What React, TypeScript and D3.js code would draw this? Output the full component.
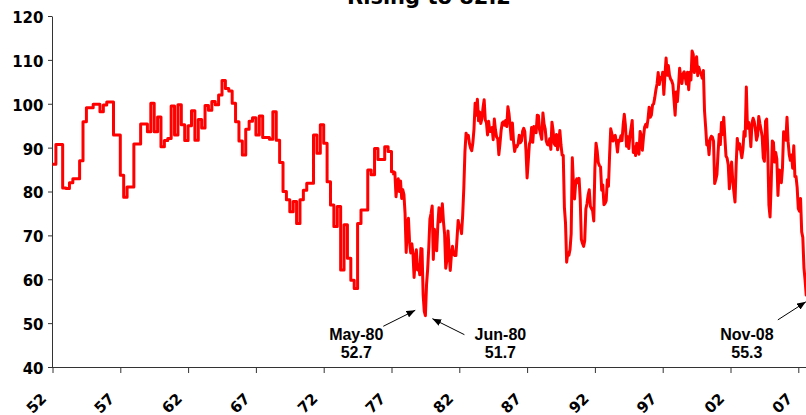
import { useEffect, useRef } from "react";
import * as d3 from "d3";

const WIDTH = 806;
const HEIGHT = 415;
const TITLE = "Rising to 82.2";

// Index of consumer sentiment. Quarterly survey readings Nov-52 .. Nov-77,
// monthly readings from Jan-78 on.
const firstSurveyMonth = new Date(1952, 10, 1);
const lastMonth = new Date(2008, 10, 1);
const quarterlySurvey = [
  86.2, 90.7, 90.7, 80.8, 80.7, 82.0, 82.9, 82.9, 87.0, 95.9, 99.1, 99.1, 99.9,
  99.9, 98.2, 99.7, 100.4, 100.4, 92.9, 92.9, 83.7, 78.7, 81.0, 81.0, 90.8,
  90.8, 95.4, 95.4, 93.6, 100.1, 93.6, 97.0, 90.2, 91.6, 92.1, 99.5, 92.9, 99.8,
  95.2, 91.6, 95.0, 98.4, 91.7, 96.4, 94.5, 99.6, 98.5, 100.5, 99.8, 102.0,
  105.3, 103.5, 102.9, 100.1, 95.9, 91.5, 88.3, 94.2, 96.0, 96.8, 92.9, 97.2,
  92.3, 92.3, 91.9, 98.2, 91.7, 86.6, 80.0, 78.1, 75.4, 77.7, 72.7, 78.1, 80.3,
  81.9, 81.9, 92.9, 88.7, 95.2, 91.0, 82.2, 76.9, 72.0, 76.6, 62.1, 72.4, 64.8,
  59.8, 57.9, 72.7, 75.8, 75.8, 84.9, 83.8, 89.8, 87.3, 87.3, 90.2, 89.1, 84.5,
];

const firstMonthlyMonth = new Date(1978, 0, 1);
const monthly1978to1987 = [
  83.7, 84.3, 78.8, 81.6, 82.9, 80.0, 82.4, 78.4, 80.4, 79.3, 75.0, 66.1,
  72.1, 73.9, 68.4, 66.0, 68.1, 65.8, 60.4, 64.5, 66.7, 62.1, 63.3, 61.0,
  67.0, 66.9, 56.5, 52.7, 51.7, 58.7, 62.3, 67.3, 73.7, 75.0, 76.7, 64.5,
  71.4, 66.9, 66.5, 72.4, 76.3, 73.1, 74.1, 77.2, 73.1, 70.3, 62.5, 64.3,
  71.0, 66.5, 62.0, 65.5, 67.5, 65.7, 65.4, 65.4, 69.3, 73.4, 72.1, 71.9,
  70.4, 74.6, 80.8, 89.1, 93.3, 92.2, 92.8, 90.9, 89.9, 89.3, 91.1, 94.2,
  100.1, 97.4, 101.0, 96.1, 98.1, 95.5, 96.6, 99.1, 100.9, 96.3, 95.7, 92.9,
  96.0, 93.7, 93.7, 94.6, 91.8, 96.5, 94.0, 92.4, 92.1, 88.4, 90.9, 93.9,
  95.6, 95.9, 95.1, 96.2, 94.8, 99.3, 97.7, 94.9, 91.9, 95.6, 91.4, 89.1,
  90.4, 90.2, 90.8, 92.8, 91.1, 91.5, 93.7, 94.4, 93.6, 89.3, 83.1, 86.8,
];
const monthly1988to1997 = [
  90.8, 91.6, 94.6, 91.2, 94.8, 94.7, 93.4, 97.4, 97.3, 94.1, 93.0, 91.9,
  97.9, 95.4, 94.3, 91.5, 90.7, 90.6, 92.0, 89.6, 95.8, 93.9, 90.9, 90.5,
  93.0, 89.5, 91.3, 93.9, 90.6, 88.3, 88.2, 76.4, 72.8, 63.9, 66.0, 65.5,
  66.8, 70.4, 87.7, 81.8, 78.3, 82.1, 82.9, 82.0, 83.0, 78.3, 69.1, 68.2,
  67.5, 68.8, 76.0, 77.2, 79.2, 80.4, 76.6, 76.1, 75.6, 73.3, 85.3, 91.0,
  89.3, 86.6, 85.9, 85.6, 80.3, 81.5, 77.0, 77.3, 77.9, 82.7, 81.2, 88.2,
  94.3, 93.2, 91.5, 92.6, 92.8, 91.2, 89.0, 91.7, 91.5, 92.7, 91.6, 95.1,
  97.6, 95.1, 90.3, 92.5, 89.8, 92.7, 94.4, 96.2, 88.9, 90.2, 88.2, 91.0,
  89.3, 88.5, 93.7, 92.7, 89.4, 92.4, 94.7, 95.3, 94.7, 96.5, 99.2, 96.9,
  97.4, 99.7, 100.0, 101.4, 103.2, 104.5, 107.1, 104.4, 106.0, 105.6, 107.2, 102.1,
];
const monthly1998to2008 = [
  106.6, 110.4, 106.5, 108.7, 106.5, 105.6, 105.2, 104.4, 100.9, 97.4, 102.7, 100.5,
  103.9, 108.1, 105.7, 104.6, 106.8, 107.3, 106.0, 104.5, 107.2, 103.2, 107.2, 105.4,
  112.0, 111.3, 107.1, 109.2, 110.7, 106.4, 108.3, 107.3, 106.8, 105.8, 107.6, 98.4,
  94.7, 90.6, 91.5, 88.4, 92.0, 92.6, 92.4, 91.5, 81.8, 82.7, 83.9, 88.8,
  93.0, 90.7, 95.7, 93.0, 96.9, 92.4, 88.1, 87.6, 86.1, 80.6, 84.2, 86.7,
  82.4, 79.9, 77.6, 86.0, 92.1, 89.7, 90.9, 89.3, 87.7, 89.6, 93.7, 92.6,
  103.8, 94.4, 95.8, 94.2, 90.2, 95.6, 96.7, 95.9, 94.2, 91.7, 92.8, 97.1,
  95.5, 94.1, 92.6, 87.7, 86.9, 96.0, 96.5, 89.1, 76.9, 74.2, 81.6, 91.5,
  91.2, 86.7, 88.9, 87.4, 79.1, 84.9, 84.7, 82.0, 85.4, 93.6, 92.1, 91.7,
  96.9, 91.3, 88.4, 87.1, 88.3, 85.3, 90.4, 83.4, 83.4, 80.9, 76.1, 75.5,
  78.4, 70.8, 69.5, 62.6, 59.8, 56.4, 61.2, 63.0, 70.3, 57.6, 55.3,
];

const yTicks = [40, 50, 60, 70, 80, 90, 100, 110, 120];
const tickEveryMonths = 60;

type Annotation = {
  month: string;
  label: string;
  value: string;
  textDx: number;
  arrowFrom: [number, number];
  arrowTo: [number, number];
};
const annotations: Annotation[] = [
  { month: "1980-04", label: "May-80", value: "52.7", textDx: -68, arrowFrom: [-41, 15], arrowTo: [-9, -1] },
  { month: "1980-05", label: "Jun-80", value: "51.7", textDx: 75, arrowFrom: [39, 19], arrowTo: [7, 3] },
  { month: "2008-11", label: "Nov-08", value: "55.3", textDx: -65, arrowFrom: [-34, 20], arrowTo: [-6, 2] },
];

type Point = { key: string; value: number };
const monthKey = d3.timeFormat("%Y-%m");

export default function App() {
  const ref = useRef<SVGSVGElement>(null);

  useEffect(() => {
    const svg = d3.select(ref.current);
    svg.selectAll("*").remove();

    const margin = { top: 16, left: 52, bottom: 48 };
    const months = d3.timeMonth.range(firstSurveyMonth, d3.timeMonth.offset(lastMonth, 1));
    const keys = months.map(monthKey);

    const x = d3
      .scalePoint<string>()
      .domain(keys)
      .range([margin.left + 0.5, margin.left + 0.5 + (keys.length - 1) * 1.13]);
    const y = d3
      .scaleLinear()
      .domain([40, 120])
      .range([HEIGHT - margin.bottom, margin.top]);

    const quarterly: Point[] = quarterlySurvey.map((value, k) => ({
      key: monthKey(d3.timeMonth.offset(firstSurveyMonth, 3 * k)),
      value,
    }));
    const monthly: Point[] = [...monthly1978to1987, ...monthly1988to1997, ...monthly1998to2008].map(
      (value, j) => ({ key: monthKey(d3.timeMonth.offset(firstMonthlyMonth, j)), value }),
    );

    const line = d3
      .line<Point>()
      .x((d) => x(d.key) ?? 0)
      .y((d) => y(d.value));

    const defs = svg.append("defs");
    defs
      .append("marker")
      .attr("id", "arrowhead")
      .attr("viewBox", "0 0 10 8")
      .attr("refX", 10)
      .attr("refY", 4)
      .attr("markerUnits", "userSpaceOnUse")
      .attr("markerWidth", 9)
      .attr("markerHeight", 7)
      .attr("orient", "auto")
      .append("path")
      .attr("d", "M0,0 L10,4 L0,8 Z")
      .attr("fill", "#000");

    // title (cut off at the top in the original)
    svg
      .append("text")
      .attr("x", 429)
      .attr("y", 4)
      .attr("text-anchor", "middle")
      .attr("font-family", "DejaVu Sans, sans-serif")
      .attr("font-weight", "bold")
      .attr("font-size", 21)
      .text(TITLE);

    // y axis
    const yAxis = svg
      .append("g")
      .attr("transform", `translate(${margin.left},0)`)
      .call(d3.axisLeft(y).tickValues(yTicks).tickSize(4).tickSizeOuter(0).tickPadding(4.5));
    yAxis.select(".domain").attr("stroke", "#333");
    yAxis.selectAll(".tick line").attr("stroke", "#333");
    yAxis
      .selectAll(".tick text")
      .attr("dy", "0.43em")
      .attr("fill", "#000")
      .attr("font-family", "DejaVu Sans, sans-serif")
      .attr("font-weight", "bold")
      .attr("font-size", 15);

    // x axis
    const xAxis = svg
      .append("g")
      .attr("transform", `translate(0,${HEIGHT - margin.bottom})`)
      .call(
        d3
          .axisBottom(x)
          .tickValues(keys.filter((_, i) => i % tickEveryMonths === 0))
          .tickFormat((k) => k.slice(2, 4))
          .tickSize(6)
          .tickSizeOuter(0),
      );
    xAxis.select(".domain").attr("d", `M${margin.left},0.5H${WIDTH}`).attr("stroke", "#333");
    xAxis.selectAll(".tick line").attr("stroke", "#333");
    xAxis
      .selectAll(".tick text")
      .attr("x", 0)
      .attr("y", 0)
      .attr("dy", 0)
      .attr("transform", "translate(-5.5,32.5) rotate(-45)")
      .attr("text-anchor", "end")
      .attr("fill", "#000")
      .attr("font-family", "DejaVu Sans, sans-serif")
      .attr("font-weight", "bold")
      .attr("font-size", 15);

    // series
    const series = svg.append("g").attr("fill", "none").attr("stroke", "#ff0000").attr("stroke-width", 3).attr("stroke-linejoin", "round");
    series.append("path").attr("d", line.curve(d3.curveStepAfter)([...quarterly, monthly[0]]));
    series.append("path").attr("d", line.curve(d3.curveLinear)(monthly));

    // annotations
    const notes = svg.append("g").attr("font-family", "Liberation Sans, Arial, sans-serif").attr("font-weight", "bold").attr("font-size", 16);
    const labelY = y(40) - 27;
    annotations.forEach((a) => {
      const px = x(a.month) ?? 0;
      const point = monthly.find((d) => d.key === a.month);
      const py = y(point ? point.value : 40);
      notes
        .append("line")
        .attr("x1", px + a.arrowFrom[0])
        .attr("y1", py + a.arrowFrom[1])
        .attr("x2", px + a.arrowTo[0])
        .attr("y2", py + a.arrowTo[1])
        .attr("stroke", "#000")
        .attr("stroke-width", 1)
        .attr("marker-end", "url(#arrowhead)");
      notes.append("text").attr("x", px + a.textDx).attr("y", labelY).attr("text-anchor", "middle").text(a.label);
      notes.append("text").attr("x", px + a.textDx).attr("y", labelY + 18).attr("text-anchor", "middle").text(a.value);
    });
  }, []);

  return (
    <svg
      ref={ref}
      width={WIDTH}
      height={HEIGHT}
      style={{ position: "absolute", left: 0, top: 0, display: "block", background: "#fff" }}
    />
  );
}
